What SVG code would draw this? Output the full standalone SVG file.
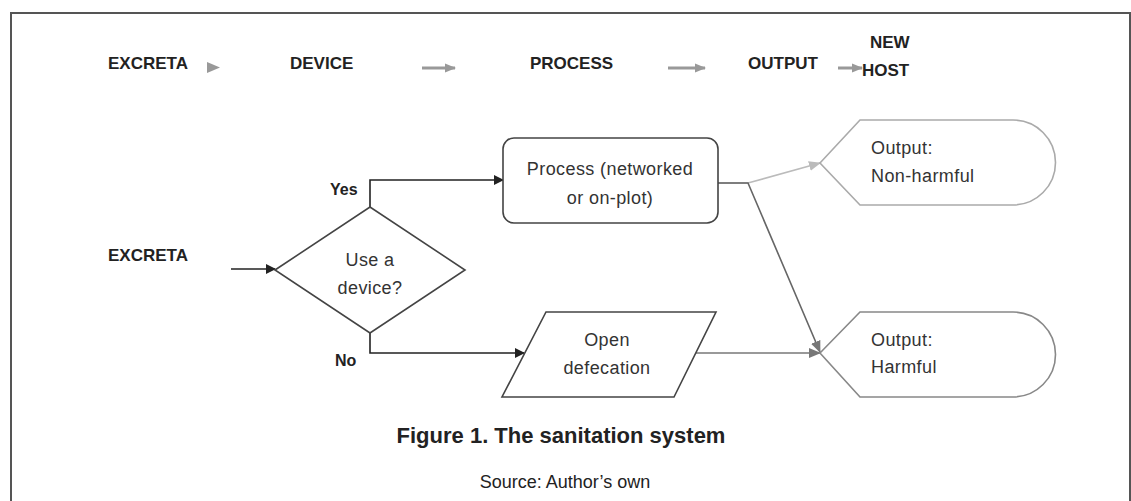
<svg xmlns="http://www.w3.org/2000/svg" width="1131" height="501" viewBox="0 0 1131 501">
<style>
.hdr{font-family:"Liberation Sans",Arial,sans-serif;font-weight:bold;font-size:17px;fill:#222}
.lbl{font-family:"Liberation Sans",Arial,sans-serif;font-size:18px;letter-spacing:0.4px;fill:#333}
.bold{font-family:"Liberation Sans",Arial,sans-serif;font-weight:bold;font-size:16px;fill:#222}
.node{fill:#fff;stroke:#444;stroke-width:1.6}
.cap{font-family:"Liberation Sans",Arial,sans-serif;font-weight:bold;font-size:22px;fill:#222}
.src{font-family:"Liberation Sans",Arial,sans-serif;font-size:18px;fill:#222}
</style>
<defs>
<marker id="ab" markerWidth="10" markerHeight="10" refX="9" refY="5" orient="auto" markerUnits="userSpaceOnUse"><path d="M0,0 L10,5 L0,10 Z" fill="#222"/></marker>
<marker id="ag" markerWidth="12" markerHeight="10" refX="11" refY="5" orient="auto" markerUnits="userSpaceOnUse"><path d="M0,0 L12,5 L0,10 Z" fill="#777"/></marker>
<marker id="al" markerWidth="12" markerHeight="10" refX="11" refY="5" orient="auto" markerUnits="userSpaceOnUse"><path d="M0,0 L12,5 L0,10 Z" fill="#bbb"/></marker>
<marker id="ah" markerWidth="11" markerHeight="10" refX="10" refY="5" orient="auto" markerUnits="userSpaceOnUse"><path d="M0,0.5 L11,5 L0,9.5 Z" fill="#999"/></marker>
</defs>
<g id="frame" fill="none" stroke="#555" stroke-width="2">
<path d="M11,501 V13 H1130 V501"/>
</g>
<g id="header">
<text class="hdr" x="108" y="69">EXCRETA</text>
<text class="hdr" x="290" y="69">DEVICE</text>
<text class="hdr" x="530" y="69">PROCESS</text>
<text class="hdr" x="748" y="69">OUTPUT</text>
<text class="hdr" x="870" y="48">NEW</text>
<text class="hdr" x="862" y="76">HOST</text>
<path d="M207,62 L220,67.5 L207,73 Z" fill="#999"/>
<g stroke="#999" stroke-width="3" fill="none">
<path d="M422,68 H455" marker-end="url(#ah)"/>
<path d="M668,68 H705" marker-end="url(#ah)"/>
<path d="M838,68 H862" marker-end="url(#ah)"/>
</g>
</g>
<g id="connectors" fill="none">
<path d="M231,269 H275" stroke="#222" stroke-width="1.6" marker-end="url(#ab)"/>
<path d="M370,207 V180 H503" stroke="#222" stroke-width="1.6" marker-end="url(#ab)"/>
<path d="M370,333 V353 H524" stroke="#222" stroke-width="1.6" marker-end="url(#ab)"/>
<path d="M718,183 H748 L820,163" stroke="#bbb" stroke-width="1.6" marker-end="url(#al)"/>
<path d="M718,183 H748 L820,352" stroke="#666" stroke-width="1.6" marker-end="url(#ag)"/>
<path d="M696,353 H820" stroke="#777" stroke-width="1.6" marker-end="url(#ag)"/>
</g>
<g id="excreta">
<text class="hdr" x="108" y="261">EXCRETA</text>
</g>
<g id="decision">
<path class="node" d="M275,270 L370,207 L465,270 L370,333 Z"/>
<text class="lbl" x="370" y="266" text-anchor="middle">Use a</text>
<text class="lbl" x="370" y="294" text-anchor="middle">device?</text>
</g>
<g id="yes-label"><text class="bold" x="330" y="195">Yes</text></g>
<g id="no-label"><text class="bold" x="335" y="366">No</text></g>
<g id="process">
<rect class="node" x="503" y="138" width="215" height="85" rx="11"/>
<text class="lbl" x="610" y="175" text-anchor="middle">Process (networked</text>
<text class="lbl" x="610" y="204" text-anchor="middle">or on-plot)</text>
</g>
<g id="open-defecation">
<path class="node" d="M546,312 H716 L674,397 H502 Z"/>
<text class="lbl" x="607" y="346" text-anchor="middle">Open</text>
<text class="lbl" x="607" y="374" text-anchor="middle">defecation</text>
</g>
<g id="output-nonharmful">
<path d="M820,163 L860,120 H1013 A42.5,42.5 0 0 1 1013,205 H860 Z" fill="#fff" stroke="#aaa" stroke-width="1.6"/>
<text class="lbl" x="871" y="154">Output:</text>
<text class="lbl" x="871" y="182">Non-harmful</text>
</g>
<g id="output-harmful">
<path d="M820,353 L860,312 H1013 A42.5,42.5 0 0 1 1013,397 H860 Z" fill="#fff" stroke="#888" stroke-width="1.6"/>
<text class="lbl" x="871" y="346">Output:</text>
<text class="lbl" x="871" y="373">Harmful</text>
</g>
<g id="caption">
<text class="cap" x="561" y="443" text-anchor="middle">Figure 1. The sanitation system</text>
<text class="src" x="565" y="488" text-anchor="middle">Source: Author’s own</text>
</g>
</svg>
